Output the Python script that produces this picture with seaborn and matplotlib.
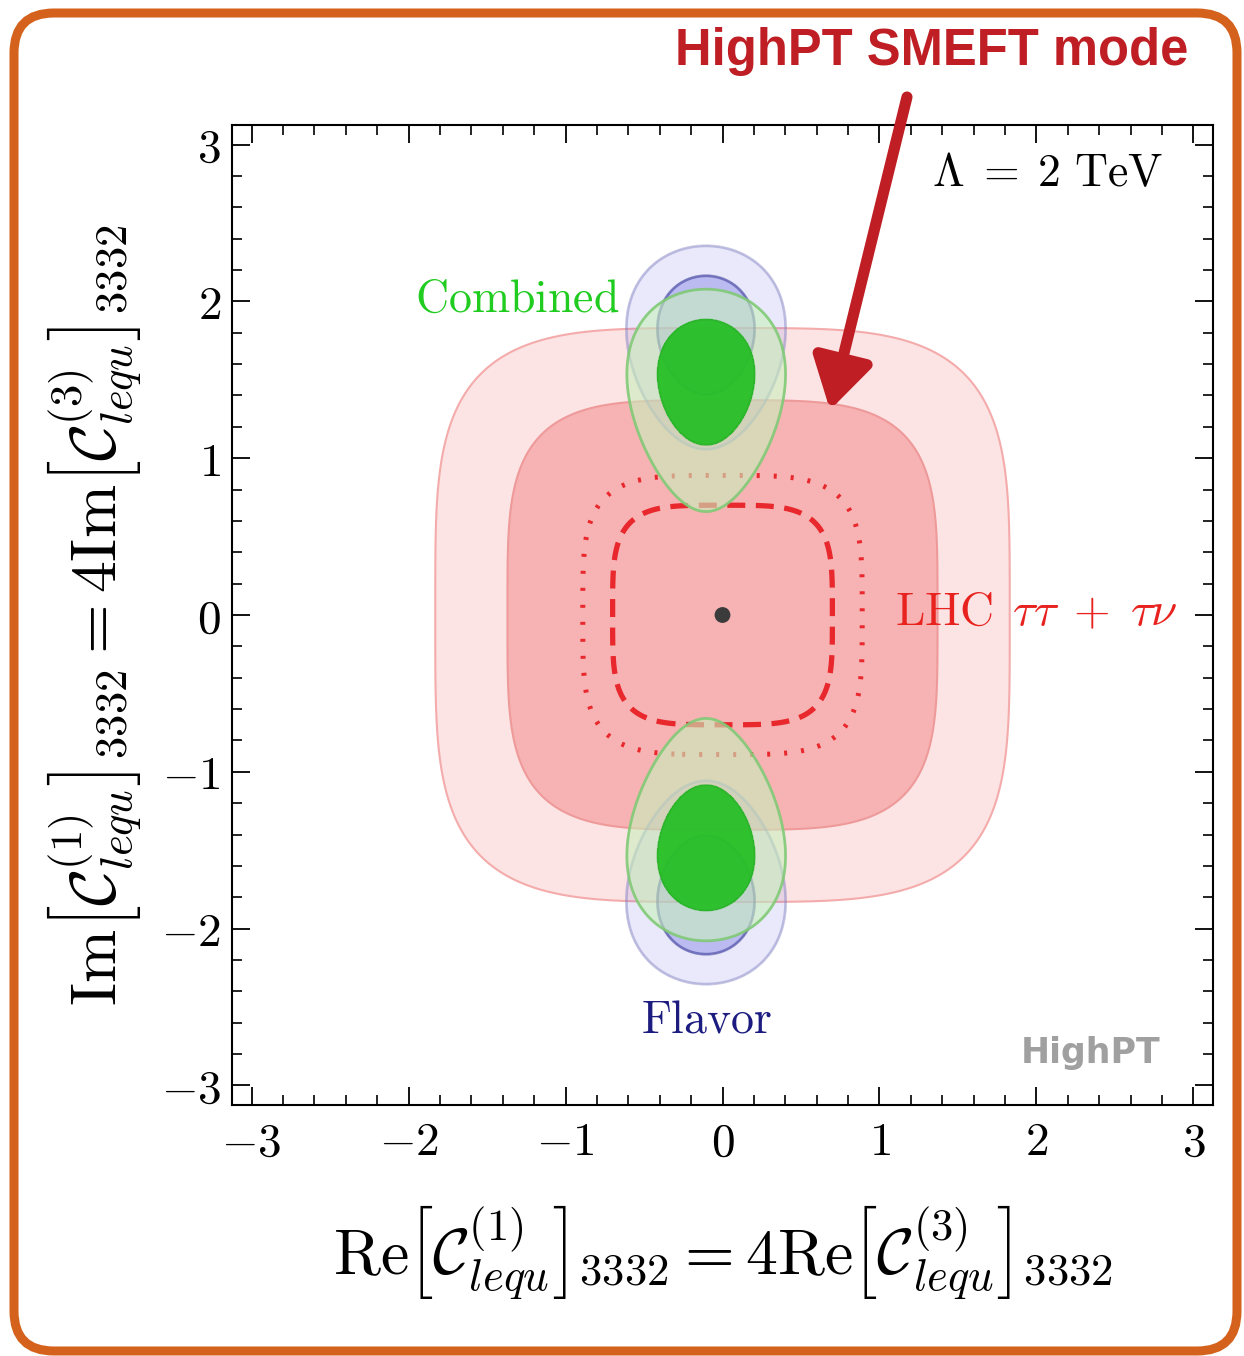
import numpy as np
import matplotlib
matplotlib.use("Agg")
import matplotlib.pyplot as plt
import seaborn as sns
from matplotlib.patches import FancyBboxPatch
from matplotlib.transforms import IdentityTransform
from matplotlib.ticker import MultipleLocator

# ---------------- values ----------------
major_ticks = [-3, -2, -1, 0, 1, 2, 3]
tick_labels = [r"$-3$", r"$-2$", r"$-1$", r"$0$", r"$1$", r"$2$", r"$3$"]
axis_range = [-3.125, 3.125]

delta_chi2 = [2.30, 6.18]            # 1 sigma, 2 sigma (2 d.o.f.)
# LHC tautau + taunu : squircle-shaped likelihood
lhc_radii = [1.37, 1.83]             # half-widths of the 1 sigma / 2 sigma regions
lhc_expected_radii = [0.70, 0.89]    # dashed / dotted expected contours
squircle_power = 4.0
# Flavor : Gaussian in (Re, Im^2)
flavor_center = [-0.105, 3.33]
flavor_width = [0.204, 0.89]
best_fit = [0.0, 0.0]

# ---------------- likelihood grids ----------------
g = np.linspace(-3.2, 3.2, 961)
X, Y = np.meshgrid(g, g)
p = squircle_power
N = (np.abs(X) ** p + np.abs(Y) ** p) ** (1.0 / p)
k = np.log(delta_chi2[1] / delta_chi2[0]) / np.log(lhc_radii[1] / lhc_radii[0])
chi2_lhc = delta_chi2[0] * (N / lhc_radii[0]) ** k
chi2_flav = ((X - flavor_center[0]) / flavor_width[0]) ** 2 + \
            ((Y ** 2 - flavor_center[1]) / flavor_width[1]) ** 2
chi2_comb = chi2_lhc + chi2_flav
chi2_comb = chi2_comb - chi2_comb.min()
d1, d2 = delta_chi2

# ---------------- style ----------------
sns.set_style("ticks")
plt.rcParams["mathtext.fontset"] = "cm"
plt.rcParams["font.family"] = ["DejaVu Sans"]
for key in ["text.color", "axes.labelcolor", "xtick.color", "ytick.color",
            "xtick.labelcolor", "ytick.labelcolor", "axes.edgecolor"]:
    plt.rcParams[key] = "black"

W, H = 1244, 1356
fig = plt.figure(figsize=(W / 100, H / 100), dpi=100)
ax = fig.add_axes([232 / W, 1 - 1105 / H, (1213 - 232) / W, (1105 - 125) / H])

# LHC
ax.contourf(X, Y, chi2_lhc, levels=[0, d2], colors=["#fde4e4"], zorder=1)
ax.contour(X, Y, chi2_lhc, levels=[d2], colors=["#f4abab"], linewidths=1.5, zorder=1.1)
ax.contourf(X, Y, chi2_lhc, levels=[0, d1], colors=["#f7b3b3"], zorder=1.2)
ax.contour(X, Y, chi2_lhc, levels=[d1], colors=["#ee9a9a"], linewidths=1.5, zorder=1.3)
ax.contour(X, Y, N, levels=[lhc_expected_radii[0]], colors=["#e8282c"],
           linewidths=3.8, linestyles=[(0, (3.4, 2.0))], zorder=1.4)
ax.contour(X, Y, N, levels=[lhc_expected_radii[1]], colors=["#e8282c"],
           linewidths=3.6, linestyles=[(0, (0.6, 2.8))], zorder=1.4)

# Flavor
blue = "#5a5ae1"
ax.contourf(X, Y, chi2_flav, levels=[0, d2], colors=[blue], alpha=0.13, zorder=2)
ax.contourf(X, Y, chi2_flav, levels=[0, d1], colors=[blue], alpha=0.32, zorder=2.1)
ax.contour(X, Y, chi2_flav, levels=[d2], colors=["#8080c0"], alpha=0.45, linewidths=2, zorder=2.2)
ax.contour(X, Y, chi2_flav, levels=[d1], colors=["#40409a"], alpha=0.6, linewidths=2, zorder=2.2)

# Combined
ax.contourf(X, Y, chi2_comb, levels=[0, d2], colors=["#c8f0bc"], alpha=0.6, zorder=3)
ax.contour(X, Y, chi2_comb, levels=[d2], colors=["#7cc872"], alpha=0.85, linewidths=2, zorder=3.1)
ax.contourf(X, Y, chi2_comb, levels=[0, d1], colors=["#22be22"], alpha=0.92, zorder=3.2)
ax.contour(X, Y, chi2_comb, levels=[d1], colors=["#2bb02b"], alpha=0.6, linewidths=1.5, zorder=3.3)

# best fit point
sns.scatterplot(x=[best_fit[0]], y=[best_fit[1]], s=130, color="#3b3b3b",
                edgecolor="none", zorder=10, ax=ax, legend=False)

# axes
ax.set_xlim(axis_range)
ax.set_ylim(axis_range)
ax.set_xticks(major_ticks, tick_labels)
ax.set_yticks(major_ticks, tick_labels)
ax.xaxis.set_minor_locator(MultipleLocator(0.2))
ax.yaxis.set_minor_locator(MultipleLocator(0.2))
ax.tick_params(which="both", direction="in", top=True, right=True, color="black",
               labelcolor="black")
ax.tick_params(which="major", length=13, width=1.3, labelsize=34)
ax.tick_params(which="minor", length=7, width=1.2)
ax.tick_params(axis="x", which="major", pad=11)
ax.tick_params(axis="y", which="major", pad=8)
for s in ax.spines.values():
    s.set_linewidth(1.5)
    s.set_color("black")
    s.set_visible(True)

ax.set_xlabel(r"$\mathrm{Re}\left[\mathcal{C}_{lequ}^{(1)}\right]_{3332}=4\mathrm{Re}\left[\mathcal{C}_{lequ}^{(3)}\right]_{3332}$",
              fontsize=46, va="center", color="black")
ax.xaxis.set_label_coords(0.5, -(1253 - 1105) / 980)
ax.set_ylabel(r"$\mathrm{Im}\left[\mathcal{C}_{lequ}^{(1)}\right]_{3332}=4\mathrm{Im}\left[\mathcal{C}_{lequ}^{(3)}\right]_{3332}$",
              fontsize=46, va="center", color="black")
ax.yaxis.set_label_coords(-(232 - 95) / 981, 0.5)

# in-plot labels
ax.text(-1.306, 2.013, r"$\mathrm{Combined}$", color="#1fcc1f", fontsize=33,
        ha="center", va="center", zorder=11)
ax.text(-0.10, -2.586, r"$\mathrm{Flavor}$", color="#1c1c80", fontsize=33,
        ha="center", va="center", zorder=11)
ax.text(1.096, 0.013, r"$\mathrm{LHC}\;\,\tau\tau\;+\;\tau\nu$", color="#e8231f", fontsize=34,
        ha="left", va="center", zorder=11)
ax.text(2.07, 2.815, r"$\Lambda\;=\;2\ \mathrm{TeV}$", color="black", fontsize=33,
        ha="center", va="center", zorder=11)
ax.text(2.344, -2.796, "HighPT", color="#a0a0a0", fontsize=25, fontweight="bold",
        ha="center", va="center", zorder=11)

# annotation
red = "#be1e24"
fig.text(932 / W, 1 - 52 / H, "HighPT SMEFT mode", color=red, fontsize=36.5,
         fontweight="bold", ha="center", va="center",
         family=["Liberation Sans", "DejaVu Sans"])
ax.annotate("", xy=(830, H - 410), xycoords="figure pixels",
            xytext=(907, H - 97), textcoords="figure pixels",
            arrowprops=dict(arrowstyle="-|>,head_length=0.55,head_width=0.33",
                            mutation_scale=55, lw=8, color=red,
                            shrinkA=0, shrinkB=0, capstyle="round"),
            annotation_clip=False, zorder=20)

# frame
frame = FancyBboxPatch((14, 5), 1223, 1338, boxstyle="round,pad=0,rounding_size=40",
                       transform=IdentityTransform(), fill=False,
                       edgecolor="#d4621c", linewidth=6.5)
fig.add_artist(frame)

fig.savefig("out.png", dpi=100)
